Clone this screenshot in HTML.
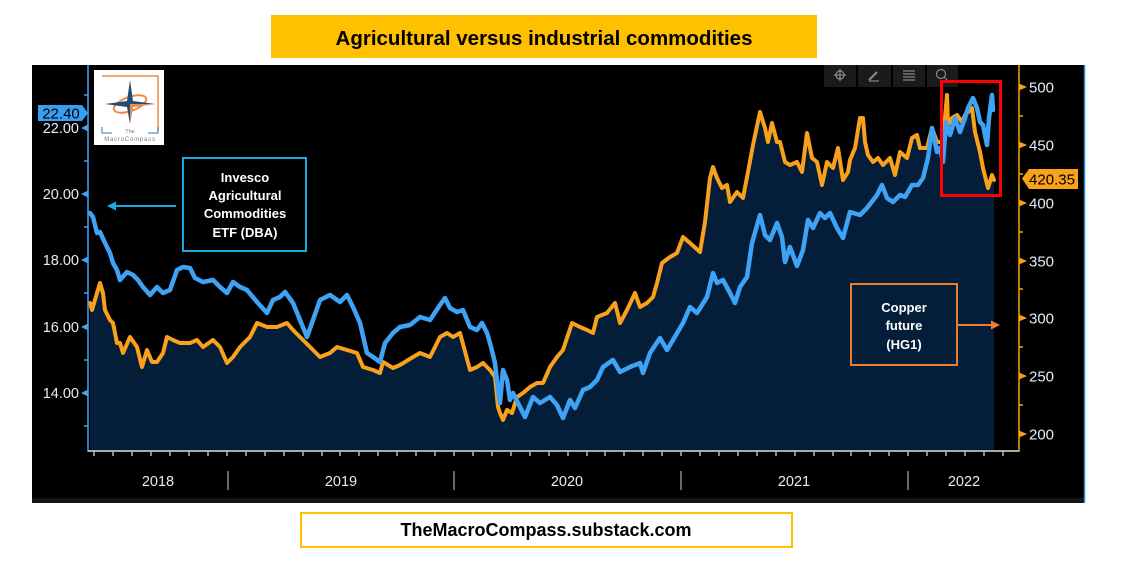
<!DOCTYPE html>
<html><head><meta charset="utf-8"><style>
html,body{margin:0;padding:0;background:#fff;width:1134px;height:588px;overflow:hidden}
svg{display:block}
text{font-family:"Liberation Sans",sans-serif}
</style></head><body>
<svg width="1134" height="588" viewBox="0 0 1134 588" xmlns="http://www.w3.org/2000/svg">
<rect x="0" y="0" width="1134" height="588" fill="#fff"/>
<!-- title -->
<rect x="271" y="15" width="546" height="43" fill="#FFC000"/>
<text x="544" y="45" font-size="20.5" font-weight="bold" text-anchor="middle" fill="#000">Agricultural versus industrial commodities</text>
<!-- panel -->
<rect x="32" y="65" width="1053" height="438" fill="#000"/>
<rect x="32" y="498" width="1053" height="5" fill="#151515"/>
<line x1="1084.5" y1="65" x2="1084.5" y2="503" stroke="#2a8ad8" stroke-width="1.5"/>
<!-- toolbar -->
<rect x="824" y="65" width="32" height="22" fill="#1b1b1b"/>
<rect x="858" y="65" width="33" height="22" fill="#1b1b1b"/>
<rect x="893" y="65" width="32" height="22" fill="#1b1b1b"/>
<rect x="927" y="65" width="31" height="22" fill="#1b1b1b"/>
<g stroke="#8a8a8a" stroke-width="1.2" fill="none">
<circle cx="840" cy="75" r="4"/><line x1="834" y1="75" x2="846" y2="75"/><line x1="840" y1="69" x2="840" y2="81"/>
<line x1="869" y1="80" x2="877" y2="72" stroke-width="2"/><line x1="869" y1="81" x2="879" y2="81"/>
<line x1="903" y1="71" x2="915" y2="71"/><line x1="903" y1="74" x2="915" y2="74"/><line x1="903" y1="77" x2="915" y2="77"/><line x1="903" y1="80" x2="915" y2="80"/>
<circle cx="941" cy="74" r="4.5"/><line x1="944" y1="77" x2="948" y2="81"/>
</g>
<!-- area fill under copper -->
<polygon fill="#041D38" points="90,303 92,310 97,293 100,283 103,293 105,310 110,320 113,323 117,343 120,343 123,353 130,337 137,347 142,367 147,350 152,362 157,362 163,353 167,337 173,340 180,343 190,343 197,340 203,347 213,340 220,347 227,363 233,357 240,347 250,337 257,323 267,327 277,327 287,323 293,330 300,337 310,347 320,357 330,353 337,347 347,350 357,353 363,367 373,370 380,373 383,362 393,368 400,365 413,357 420,353 430,357 440,337 447,333 453,337 460,333 470,370 477,367 483,363 490,370 495,377 498,407 500,413 503,420 507,410 512,413 517,397 523,393 530,387 537,383 543,383 550,367 557,357 563,350 572,323 580,327 587,330 593,333 597,317 607,313 615,303 620,323 627,310 635,293 640,307 647,303 653,297 657,283 662,263 670,257 677,253 683,237 690,243 700,252 705,222 710,178 713,167 717,178 722,188 727,185 730,202 737,192 743,198 748,172 753,145 760,112 765,128 768,142 772,123 777,142 780,142 785,162 790,165 797,162 802,172 807,133 812,158 817,162 822,185 827,162 833,168 838,148 843,180 848,172 850,160 855,148 860,118 863,118 865,142 868,155 873,162 878,158 883,165 890,158 895,175 900,152 907,158 912,138 917,135 920,148 927,148 932,128 937,142 942,142 945,118 947,95 948,125 952,118 957,115 962,122 965,115 968,112 972,108 975,132 980,152 983,168 988,188 992,175 994,180 994,451 90,451"/>
<!-- copper line -->
<polyline fill="none" stroke="#F9A11B" stroke-width="4" stroke-linejoin="round" stroke-linecap="round" points="90,303 92,310 97,293 100,283 103,293 105,310 110,320 113,323 117,343 120,343 123,353 130,337 137,347 142,367 147,350 152,362 157,362 163,353 167,337 173,340 180,343 190,343 197,340 203,347 213,340 220,347 227,363 233,357 240,347 250,337 257,323 267,327 277,327 287,323 293,330 300,337 310,347 320,357 330,353 337,347 347,350 357,353 363,367 373,370 380,373 383,362 393,368 400,365 413,357 420,353 430,357 440,337 447,333 453,337 460,333 470,370 477,367 483,363 490,370 495,377 498,407 500,413 503,420 507,410 512,413 517,397 523,393 530,387 537,383 543,383 550,367 557,357 563,350 572,323 580,327 587,330 593,333 597,317 607,313 615,303 620,323 627,310 635,293 640,307 647,303 653,297 657,283 662,263 670,257 677,253 683,237 690,243 700,252 705,222 710,178 713,167 717,178 722,188 727,185 730,202 737,192 743,198 748,172 753,145 760,112 765,128 768,142 772,123 777,142 780,142 785,162 790,165 797,162 802,172 807,133 812,158 817,162 822,185 827,162 833,168 838,148 843,180 848,172 850,160 855,148 860,118 863,118 865,142 868,155 873,162 878,158 883,165 890,158 895,175 900,152 907,158 912,138 917,135 920,148 927,148 932,128 937,142 942,142 945,118 947,95 948,125 952,118 957,115 962,122 965,115 968,112 972,108 975,132 980,152 983,168 988,188 992,175 994,180"/>
<!-- DBA line -->
<polyline fill="none" stroke="#3FA3F5" stroke-width="4.5" stroke-linejoin="round" stroke-linecap="round" points="90,213 93,217 97,233 100,232 105,243 110,253 113,263 117,270 120,280 127,272 133,275 138,280 143,287 150,295 157,287 163,293 170,290 177,270 183,267 190,268 195,278 203,282 213,280 220,287 227,293 233,282 240,287 247,290 257,302 267,313 273,300 280,297 285,292 293,303 300,320 307,337 313,320 320,300 330,295 340,302 347,295 353,307 360,323 367,353 373,357 380,362 385,343 393,333 400,327 410,325 420,317 430,320 440,305 445,298 450,308 457,312 463,310 470,327 477,330 482,323 487,333 490,343 495,363 498,390 500,403 503,370 507,380 510,400 513,393 520,407 525,417 533,397 540,403 550,397 557,405 563,418 570,400 575,408 583,390 590,387 597,380 603,367 613,360 620,372 630,367 640,363 643,373 650,353 660,338 667,350 673,340 683,323 690,307 697,313 707,297 713,273 717,283 723,280 730,293 735,303 740,287 747,277 752,243 760,215 765,235 770,240 777,223 782,237 785,262 790,247 797,266 803,250 808,220 813,228 820,213 825,218 830,213 837,228 843,238 850,212 860,215 867,208 877,195 882,185 887,198 893,202 900,195 905,197 912,185 918,185 923,178 928,158 932,128 937,152 940,148 943,162 946,122 950,135 955,118 960,132 965,118 968,108 973,98 977,108 980,122 983,125 987,145 989,118 992,95 993,110"/>
<!-- left axis -->
<line x1="88" y1="65" x2="88" y2="452" stroke="#3FA3F5" stroke-width="1.5"/>
<g fill="#3FA3F5">
<polygon points="81,128 88,124.5 88,131.5"/><polygon points="81,194 88,190.5 88,197.5"/><polygon points="81,260 88,256.5 88,263.5"/><polygon points="81,327 88,323.5 88,330.5"/><polygon points="81,393 88,389.5 88,396.5"/>
</g>
<g stroke="#3FA3F5" stroke-width="1.5">
<line x1="84" y1="95" x2="88" y2="95"/><line x1="84" y1="161" x2="88" y2="161"/><line x1="84" y1="227" x2="88" y2="227"/><line x1="84" y1="293" x2="88" y2="293"/><line x1="84" y1="360" x2="88" y2="360"/><line x1="84" y1="426" x2="88" y2="426"/>
</g>
<g font-size="14.5" fill="#e6ecf5" text-anchor="end">
<text x="79" y="133">22.00</text><text x="79" y="199">20.00</text><text x="79" y="265">18.00</text><text x="79" y="332">16.00</text><text x="79" y="398">14.00</text>
</g>
<polygon points="38,105 82,105 88,113 82,121 38,121" fill="#3A9EF0"/>
<text x="61" y="118.5" font-size="15" fill="#000" text-anchor="middle">22.40</text>
<!-- right axis -->
<line x1="1019" y1="65" x2="1019" y2="452" stroke="#F9A11B" stroke-width="1.5"/>
<g fill="#F9A11B">
<polygon points="1027,87 1019,83.5 1019,90.5"/><polygon points="1027,145 1019,141.5 1019,148.5"/><polygon points="1027,203 1019,199.5 1019,206.5"/><polygon points="1027,261 1019,257.5 1019,264.5"/><polygon points="1027,318 1019,314.5 1019,321.5"/><polygon points="1027,376 1019,372.5 1019,379.5"/><polygon points="1027,434 1019,430.5 1019,437.5"/>
</g>
<g stroke="#F9A11B" stroke-width="1.5">
<line x1="1019" y1="116" x2="1023" y2="116"/><line x1="1019" y1="174" x2="1023" y2="174"/><line x1="1019" y1="232" x2="1023" y2="232"/><line x1="1019" y1="289" x2="1023" y2="289"/><line x1="1019" y1="347" x2="1023" y2="347"/><line x1="1019" y1="405" x2="1023" y2="405"/>
</g>
<g font-size="15" fill="#e6ecf5">
<text x="1029" y="92.5">500</text><text x="1029" y="150.5">450</text><text x="1029" y="208.5">400</text><text x="1029" y="266.5">350</text><text x="1029" y="323.5">300</text><text x="1029" y="381.5">250</text><text x="1029" y="439.5">200</text>
</g>
<polygon points="1022,178.5 1029,169 1078,169 1078,189 1029,189" fill="#F9A11B"/>
<text x="1052" y="184.5" font-size="15" fill="#000" text-anchor="middle">420.35</text>
<!-- bottom axis -->
<line x1="88" y1="451" x2="1019" y2="451" stroke="#aaa" stroke-width="2"/>
<g stroke="#bbb" stroke-width="1.5">
<line x1="94" y1="451" x2="94" y2="456"/><line x1="113" y1="451" x2="113" y2="456"/><line x1="132" y1="451" x2="132" y2="456"/><line x1="151" y1="451" x2="151" y2="456"/><line x1="170" y1="451" x2="170" y2="456"/><line x1="189" y1="451" x2="189" y2="456"/><line x1="208" y1="451" x2="208" y2="456"/><line x1="227" y1="451" x2="227" y2="456"/><line x1="246" y1="451" x2="246" y2="456"/><line x1="265" y1="451" x2="265" y2="456"/><line x1="284" y1="451" x2="284" y2="456"/><line x1="303" y1="451" x2="303" y2="456"/><line x1="322" y1="451" x2="322" y2="456"/><line x1="340" y1="451" x2="340" y2="456"/><line x1="359" y1="451" x2="359" y2="456"/><line x1="378" y1="451" x2="378" y2="456"/><line x1="397" y1="451" x2="397" y2="456"/><line x1="416" y1="451" x2="416" y2="456"/><line x1="435" y1="451" x2="435" y2="456"/><line x1="454" y1="451" x2="454" y2="456"/><line x1="473" y1="451" x2="473" y2="456"/><line x1="492" y1="451" x2="492" y2="456"/><line x1="511" y1="451" x2="511" y2="456"/><line x1="530" y1="451" x2="530" y2="456"/><line x1="549" y1="451" x2="549" y2="456"/><line x1="568" y1="451" x2="568" y2="456"/><line x1="587" y1="451" x2="587" y2="456"/><line x1="605" y1="451" x2="605" y2="456"/><line x1="624" y1="451" x2="624" y2="456"/><line x1="643" y1="451" x2="643" y2="456"/><line x1="662" y1="451" x2="662" y2="456"/><line x1="681" y1="451" x2="681" y2="456"/><line x1="700" y1="451" x2="700" y2="456"/><line x1="719" y1="451" x2="719" y2="456"/><line x1="738" y1="451" x2="738" y2="456"/><line x1="757" y1="451" x2="757" y2="456"/><line x1="776" y1="451" x2="776" y2="456"/><line x1="795" y1="451" x2="795" y2="456"/><line x1="814" y1="451" x2="814" y2="456"/><line x1="833" y1="451" x2="833" y2="456"/><line x1="851" y1="451" x2="851" y2="456"/><line x1="870" y1="451" x2="870" y2="456"/><line x1="889" y1="451" x2="889" y2="456"/><line x1="908" y1="451" x2="908" y2="456"/><line x1="927" y1="451" x2="927" y2="456"/><line x1="946" y1="451" x2="946" y2="456"/><line x1="965" y1="451" x2="965" y2="456"/><line x1="984" y1="451" x2="984" y2="456"/><line x1="1003" y1="451" x2="1003" y2="456"/>
</g>
<g stroke="#8a8a8a" stroke-width="1.5">
<line x1="228" y1="471" x2="228" y2="490"/><line x1="454" y1="471" x2="454" y2="490"/><line x1="681" y1="471" x2="681" y2="490"/><line x1="908" y1="471" x2="908" y2="490"/>
</g>
<g font-size="14.5" fill="#e6ecf5" text-anchor="middle">
<text x="158" y="486">2018</text><text x="341" y="486">2019</text><text x="567" y="486">2020</text><text x="794" y="486">2021</text><text x="964" y="486">2022</text>
</g>
<!-- logo -->
<rect x="94" y="70" width="70" height="75" fill="#fff"/>
<polyline points="102,76 158,76 158,131" fill="none" stroke="#F08A4B" stroke-width="1.5"/>
<polyline points="102,127 102,133 112,133" fill="none" stroke="#2E75B6" stroke-width="1"/>
<polyline points="148,133 158,133 158,127" fill="none" stroke="#2E75B6" stroke-width="1"/>
<ellipse cx="130" cy="104" rx="17" ry="7" fill="none" stroke="#F08A4B" stroke-width="2" transform="rotate(-20 130 104)"/>
<polygon points="130,80 133,101 155,104 133,107 130,124 127,107 105,104 127,101" fill="#1F4E79"/>
<polygon points="130,104 155,104 133,107 130,124" fill="#F08A4B"/>
<text x="130" y="133" font-size="5.5" fill="#777" text-anchor="middle">The</text>
<text x="130" y="141" font-size="6" fill="#777" text-anchor="middle" letter-spacing="0.8">MacroCompass</text>
<!-- Invesco annotation -->
<rect x="183" y="158" width="123" height="93" fill="#000" stroke="#1CA8E0" stroke-width="2"/>
<g font-size="13" font-weight="bold" fill="#fff" text-anchor="middle">
<text x="245" y="182">Invesco</text><text x="245" y="200">Agricultural</text><text x="245" y="218">Commodities</text><text x="245" y="237">ETF (DBA)</text>
</g>
<line x1="176" y1="206" x2="114" y2="206" stroke="#1CA8E0" stroke-width="2"/>
<polygon points="107,206 116,201.5 116,210.5" fill="#1CA8E0"/>
<!-- Copper annotation -->
<rect x="851" y="284" width="106" height="81" fill="none" stroke="#ED7D31" stroke-width="2"/>
<g font-size="13" font-weight="bold" fill="#fff" text-anchor="middle">
<text x="904" y="312">Copper</text><text x="904" y="330">future</text><text x="904" y="349">(HG1)</text>
</g>
<line x1="958" y1="325" x2="993" y2="325" stroke="#ED7D31" stroke-width="2"/>
<polygon points="1000,325 991,320.5 991,329.5" fill="#ED7D31"/>
<!-- red highlight -->
<rect x="941.5" y="81.5" width="59" height="114" fill="none" stroke="#FF0000" stroke-width="3"/>
<!-- footer -->
<rect x="301" y="513" width="491" height="34" fill="#fff" stroke="#FFC000" stroke-width="2"/>
<text x="546" y="536" font-size="18" font-weight="bold" fill="#000" text-anchor="middle">TheMacroCompass.substack.com</text>
</svg>
</body></html>
